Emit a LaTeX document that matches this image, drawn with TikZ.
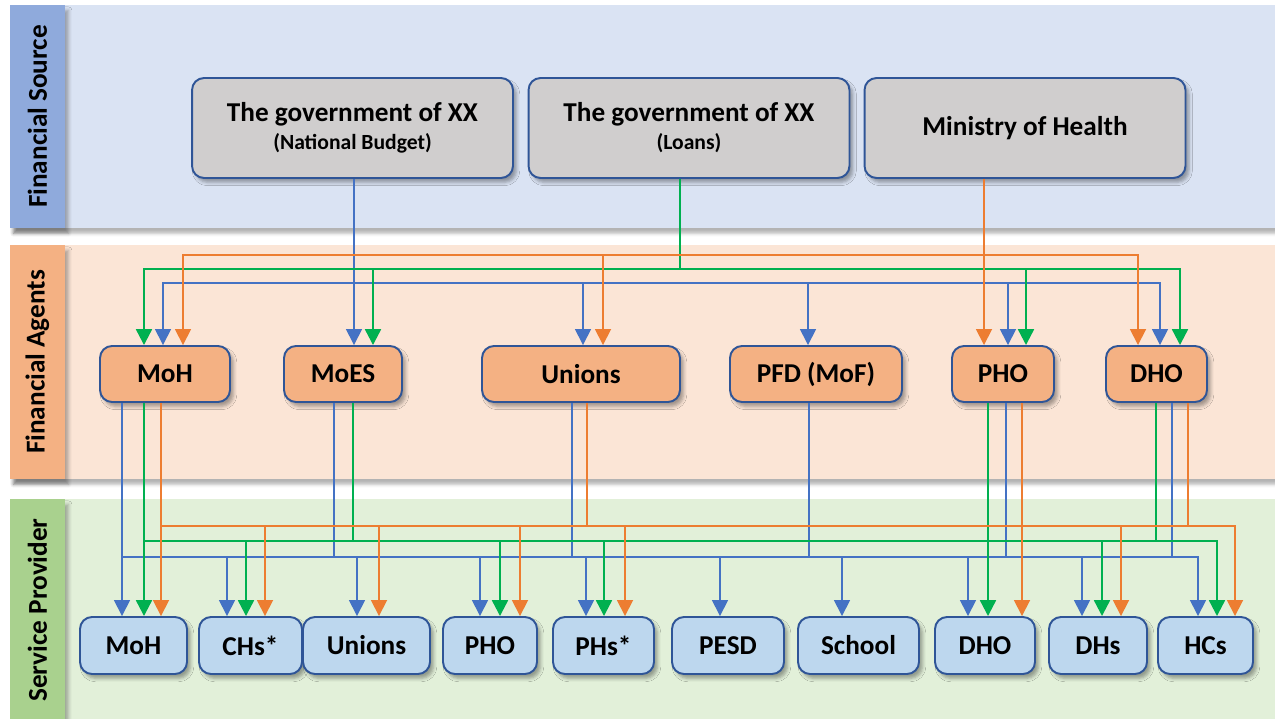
\documentclass[tikz,border=0pt]{standalone}
\usepackage{fontspec}
\setmainfont{Carlito}
\usetikzlibrary{arrows.meta,shadows.blur}
\definecolor{srcBg}{HTML}{DAE3F3}
\definecolor{srcStrip}{HTML}{8FAADC}
\definecolor{agtBg}{HTML}{FBE5D6}
\definecolor{agtFill}{HTML}{F4B183}
\definecolor{prvBg}{HTML}{E2F0D9}
\definecolor{prvStrip}{HTML}{A9D18E}
\definecolor{prvFill}{HTML}{BDD7EE}
\definecolor{srcFill}{HTML}{D0CECE}
\definecolor{rim}{HTML}{2F5597}
\definecolor{flowBlue}{HTML}{4472C4}
\definecolor{flowGreen}{HTML}{00B050}
\definecolor{flowOrange}{HTML}{ED7D31}
\tikzset{
  x=0.02cm, y=-0.02cm,
  >={Triangle[width=9pt,length=9pt]},
  band/.style={blur shadow={shadow xshift=2pt,shadow yshift=-3pt,shadow opacity=30}},
  bandlabel/.style={rotate=90, font=\fontsize{15.5}{18}\selectfont\bfseries},
  box/.style={draw=rim, line width=1.1pt, rounded corners=0.24cm,
    font=\fontsize{15.5}{18}\selectfont\bfseries, align=center,
    blur shadow={shadow xshift=2pt,shadow yshift=-2.5pt,shadow opacity=35}},
  srcbox/.style={box, fill=srcFill, minimum width=6.42cm, minimum height=2cm},
  agtbox/.style={box, fill=agtFill, minimum height=1.12cm},
  prvbox/.style={box, fill=prvFill, minimum height=1.14cm},
  flowb/.style={draw=flowBlue, line width=0.9pt},
  flowg/.style={draw=flowGreen, line width=1.3pt},
  flowo/.style={draw=flowOrange, line width=1pt},
}

\begin{document}
\begin{tikzpicture}
  \useasboundingbox (0,0) rectangle (1275,719);

  % bands
  \fill[srcBg, band] (10,5) rectangle (1275,228);
  \fill[agtBg, band] (10,245) rectangle (1275,479);
  \fill[prvBg, band] (10,499) rectangle (1275,725);
  \fill[srcStrip, band] (10,5) rectangle (65,228);
  \fill[agtFill, band] (10,245) rectangle (65,479);
  \fill[prvStrip, band] (10,499) rectangle (65,725);
  \node[bandlabel] (lSrc) at (37.5,116.5) {Financial Source};
  \node[bandlabel] (lAgt) at (37.5,362) {Financial Agents};
  \node[bandlabel] (lPrv) at (37.5,610) {Service Provider};

  % financial sources
  \node[srcbox] (src1) at (352.5,128) {The government of XX\\[-2pt]{\fontsize{12.3}{14}\selectfont(National Budget)}};
  \node[srcbox] (src2) at (689,128) {The government of XX\\[-2pt]{\fontsize{12.3}{14}\selectfont(Loans)}};
  \node[srcbox] (src3) at (1025,128) {Ministry of Health};

  % financial agents
  \foreach \n/\x/\w/\t in {aMoH/165/2.6/MoH, aMoES/343/2.36/MoES, aUni/581/3.96/Unions,
      aPFD/816/3.44/PFD (MoF), aPHO/1003/2.04/PHO, aDHO/1156.5/2.02/DHO}
    \node[agtbox, minimum width=\w cm] (\n) at (\x,374) {\t};

  % service providers
  \foreach \n/\x/\w/\t in {pMoH/133.5/2.14/MoH, pCHs/250.5/2.06/CHs*, pUni/366.5/2.54/Unions,
      pPHO/490/1.88/PHO, pPHs/603.5/2.02/PHs*, pPESD/728/2.24/PESD, pSch/858.5/2.42/School,
      pDHO/985/2.0/DHO, pDHs/1098/1.96/DHs, pHCs/1205.5/1.9/HCs}
    \node[prvbox, minimum width=\w cm] (\n) at (\x,645.5) {\t};

  % sources -> agents
  \coordinate (bTop) at (0,283);
  \coordinate (gTop) at (0,269);
  \coordinate (oTop) at (0,255);
  \draw[flowb,->] (354,0 |- src1.south) -- (354,0 |- aMoES.north);
  \draw[flowb,<->] (163,0 |- aMoH.north) -- (163,0 |- bTop) -- (1160,0 |- bTop) -- (1160,0 |- aDHO.north);
  \foreach \x/\n in {583/aUni, 808/aPFD, 1008/aPHO}
    \draw[flowb,->] (\x,0 |- bTop) -- (\x,0 |- \n.north);
  \draw[flowg] (680,0 |- src2.south) -- (680,0 |- gTop);
  \draw[flowg,<->] (144,0 |- aMoH.north) -- (144,0 |- gTop) -- (1180,0 |- gTop) -- (1180,0 |- aDHO.north);
  \foreach \x/\n in {373/aMoES, 1026/aPHO}
    \draw[flowg,->] (\x,0 |- gTop) -- (\x,0 |- \n.north);
  \draw[flowo,->] (984,0 |- src3.south) -- (984,0 |- aPHO.north);
  \draw[flowo,<->] (183,0 |- aMoH.north) -- (183,0 |- oTop) -- (1138,0 |- oTop) -- (1138,0 |- aDHO.north);
  \draw[flowo,->] (603,0 |- oTop) -- (603,0 |- aUni.north);

  % agents -> providers
  \coordinate (bLow) at (0,557);
  \coordinate (gLow) at (0,541);
  \coordinate (oLow) at (0,526);
  \draw[flowb,->] (122,0 |- aMoH.south) -- (122,0 |- pMoH.north);
  \draw[flowb,->] (122,0 |- bLow) -- (1198,0 |- bLow) -- (1198,0 |- pHCs.north);
  \foreach \x/\n in {334/aMoES, 572/aUni, 809/aPFD, 1006/aPHO, 1172/aDHO}
    \draw[flowb] (\x,0 |- \n.south) -- (\x,0 |- bLow);
  \foreach \x/\n in {227/pCHs, 357/pUni, 480/pPHO, 586/pPHs, 720/pPESD, 842/pSch, 968/pDHO, 1082/pDHs}
    \draw[flowb,->] (\x,0 |- bLow) -- (\x,0 |- \n.north);

  \draw[flowg,->] (144,0 |- aMoH.south) -- (144,0 |- pMoH.north);
  \draw[flowg,->] (988,0 |- aPHO.south) -- (988,0 |- pDHO.north);
  \draw[flowg,->] (144,0 |- gLow) -- (1217,0 |- gLow) -- (1217,0 |- pHCs.north);
  \foreach \x/\n in {353/aMoES, 1156/aDHO}
    \draw[flowg] (\x,0 |- \n.south) -- (\x,0 |- gLow);
  \foreach \x/\n in {246/pCHs, 500/pPHO, 604/pPHs, 1102/pDHs}
    \draw[flowg,->] (\x,0 |- gLow) -- (\x,0 |- \n.north);

  \draw[flowo,->] (161,0 |- aMoH.south) -- (161,0 |- pMoH.north);
  \draw[flowo,->] (1022,0 |- aPHO.south) -- (1022,0 |- pDHO.north);
  \draw[flowo,->] (161,0 |- oLow) -- (1235,0 |- oLow) -- (1235,0 |- pHCs.north);
  \foreach \x/\n in {587/aUni, 1188/aDHO}
    \draw[flowo] (\x,0 |- \n.south) -- (\x,0 |- oLow);
  \foreach \x/\n in {265/pCHs, 379/pUni, 520/pPHO, 625/pPHs, 1121/pDHs}
    \draw[flowo,->] (\x,0 |- oLow) -- (\x,0 |- \n.north);
\end{tikzpicture}
\end{document}
